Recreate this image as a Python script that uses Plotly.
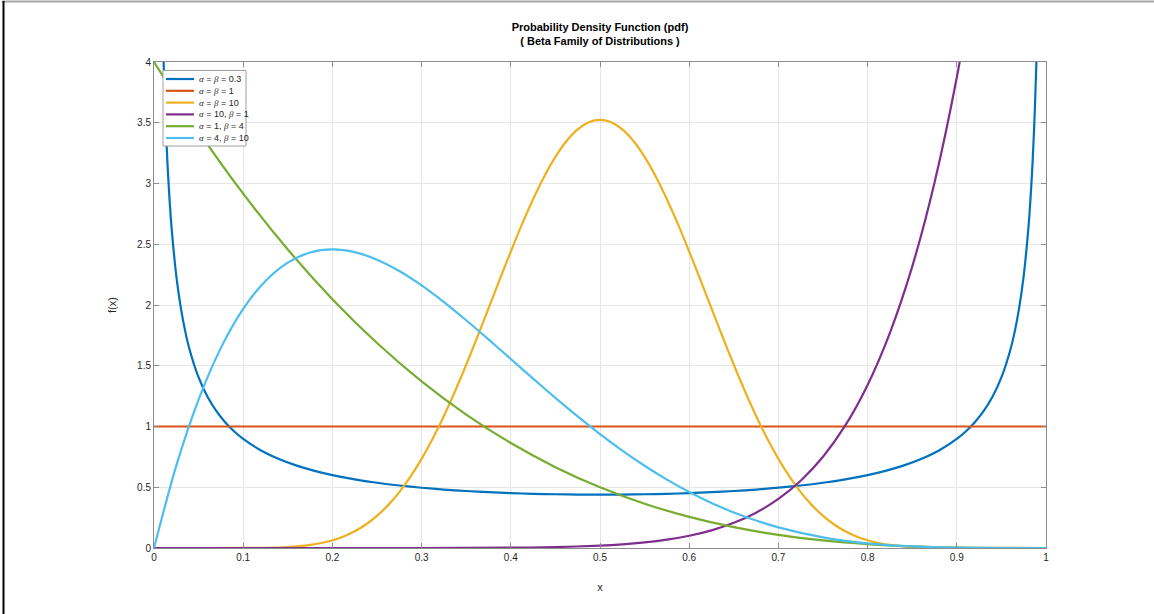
import plotly.graph_objects as go

# ---- data ----
x_a = [0.005, 0.0075, 0.01, 0.0125, 0.015, 0.0175, 0.02, 0.025, 0.03, 0.035, 0.04, 0.05, 0.06, 0.07, 0.08, 0.09, 0.1,
       0.12, 0.14, 0.16, 0.18, 0.2, 0.225, 0.25, 0.275, 0.3, 0.325, 0.35, 0.375, 0.4, 0.425, 0.45, 0.475, 0.5,
       0.525, 0.55, 0.575, 0.6, 0.625, 0.65, 0.675, 0.7, 0.725, 0.75, 0.775, 0.8, 0.82, 0.84, 0.86, 0.88,
       0.9, 0.91, 0.92, 0.93, 0.94, 0.95, 0.96, 0.965, 0.97, 0.975, 0.98, 0.9825, 0.985, 0.9875, 0.99, 0.9925, 0.995]
y_a = [6.81, 5.139, 4.21, 3.607, 3.18, 2.860, 2.61, 2.240, 1.98, 1.783, 1.63, 1.404, 1.245, 1.126, 1.0334, 0.959, 0.898,
       0.8028, 0.7323, 0.6780, 0.6350, 0.600, 0.5651, 0.5371, 0.5145, 0.4961, 0.4812, 0.4691, 0.4594, 0.4518, 0.4461, 0.4422, 0.4399, 0.4391,
       0.4399, 0.4422, 0.4461, 0.4518, 0.4594, 0.4691, 0.4812, 0.4961, 0.5145, 0.5371, 0.5651, 0.600, 0.6350, 0.6780, 0.7323, 0.8028,
       0.898, 0.959, 1.0334, 1.126, 1.245, 1.404, 1.63, 1.783, 1.98, 2.240, 2.61, 2.860, 3.18, 3.607, 4.21, 5.139, 6.81]

x_b = [0.0, 1.0]
y_b = [1.0, 1.0]

x_c = [0.0, 0.05, 0.1, 0.125, 0.15, 0.1625, 0.175, 0.1875, 0.2, 0.2125, 0.225, 0.2375, 0.25, 0.2625, 0.275, 0.2875,
       0.3, 0.3125, 0.325, 0.3375, 0.35, 0.3625, 0.375, 0.3875, 0.4, 0.4125, 0.425, 0.4375, 0.45, 0.4625, 0.475, 0.4875,
       0.5, 0.5125, 0.525, 0.5375, 0.55, 0.5625, 0.575, 0.5875, 0.6, 0.6125, 0.625, 0.6375, 0.65, 0.6625, 0.675, 0.6875,
       0.7, 0.7125, 0.725, 0.7375, 0.75, 0.7625, 0.775, 0.7875, 0.8, 0.8125, 0.825, 0.8375, 0.85, 0.875, 0.9, 0.95, 1.0]
y_c = [0.0, 0.0, 0.0004, 0.0021, 0.0082, 0.0148, 0.0251, 0.0408, 0.0634, 0.0950, 0.1377, 0.1935, 0.2646, 0.3529, 0.4599, 0.5867,
       0.7336, 0.9009, 1.0871, 1.2903, 1.508, 1.7366, 1.971, 2.2079, 2.440, 2.6637, 2.871, 3.0584, 3.219, 3.3498, 3.445, 3.5044,
       3.524, 3.5044, 3.445, 3.3498, 3.219, 3.0584, 2.871, 2.6637, 2.440, 2.2079, 1.971, 1.7366, 1.508, 1.2903, 1.0871, 0.9009,
       0.7336, 0.5867, 0.4599, 0.3529, 0.2646, 0.1935, 0.1377, 0.0950, 0.0634, 0.0408, 0.0251, 0.0148, 0.0082, 0.0021, 0.0004, 0.0, 0.0]

x_d = [0.0, 0.1, 0.2, 0.3, 0.4, 0.45, 0.5, 0.525, 0.55, 0.575, 0.6, 0.625, 0.65, 0.675, 0.7, 0.725, 0.75, 0.775, 0.8,
       0.825, 0.85, 0.875, 0.9, 0.925, 0.95]
y_d = [0.0, 0.0, 0.00001, 0.0002, 0.0026, 0.0076, 0.0195, 0.0303, 0.0461, 0.0687, 0.1008, 0.1455, 0.2071, 0.2909, 0.4035, 0.5535, 0.7508, 1.0087, 1.342,
       1.7706, 2.316, 3.0067, 3.874, 4.958, 6.30]

x_e = [0.0, 0.05, 0.1, 0.15, 0.2, 0.25, 0.3, 0.35, 0.4, 0.45, 0.5, 0.55, 0.6, 0.65, 0.7, 0.75, 0.8, 0.85, 0.9, 0.95, 1.0]
y_e = [4.0, 3.4295, 2.916, 2.4565, 2.048, 1.6875, 1.372, 1.0985, 0.864, 0.6655, 0.5, 0.3645, 0.256, 0.1715, 0.108, 0.0625, 0.032, 0.0135, 0.004, 0.0005, 0.0]

x_f = [0.0, 0.025, 0.05, 0.075, 0.1, 0.125, 0.15, 0.175, 0.2, 0.225, 0.25, 0.275, 0.3, 0.325, 0.35, 0.375, 0.4, 0.425, 0.45,
       0.475, 0.5, 0.525, 0.55, 0.575, 0.6, 0.625, 0.65, 0.675, 0.7, 0.75, 0.8, 0.85, 0.9, 0.95, 1.0]
y_f = [0.0, 0.6778, 1.2218, 1.6472, 1.9683, 2.1982, 2.3490, 2.4321, 2.4576, 2.4351, 2.3730, 2.2793, 2.1609, 2.0240, 1.8744, 1.7166, 1.5552, 1.3937, 1.2353,
       1.0826, 0.9375, 0.8018, 0.6766, 0.5628, 0.4608, 0.3708, 0.2926, 0.2259, 0.1701, 0.0879, 0.0384, 0.0129, 0.0027, 0.0002, 0.0]

A = "<span style='font-family:Liberation Serif'><i>α</i></span>"
B = "<span style='font-family:Liberation Serif'><i>β</i></span>"
labels = [f"{A} = {B} = 0.3", f"{A} = {B} = 1", f"{A} = {B} = 10",
          f"{A} = 10, {B} = 1", f"{A} = 1, {B} = 4", f"{A} = 4, {B} = 10"]
colors = ["#0072BD", "#D95319", "#EDB120", "#7E2F8E", "#77AC30", "#4DBEEE"]
x_ticks = [0, 0.1, 0.2, 0.3, 0.4, 0.5, 0.6, 0.7, 0.8, 0.9, 1]
x_tick_text = ["0", "0.1", "0.2", "0.3", "0.4", "0.5", "0.6", "0.7", "0.8", "0.9", "1"]
y_ticks = [0, 0.5, 1, 1.5, 2, 2.5, 3, 3.5, 4]
y_tick_text = ["0", "0.5", "1", "1.5", "2", "2.5", "3", "3.5", "4"]

series = [(x_a, y_a), (x_b, y_b), (x_c, y_c), (x_d, y_d), (x_e, y_e), (x_f, y_f)]

fig = go.Figure()
for (xs, ys), lab, col in zip(series, labels, colors):
    fig.add_trace(go.Scatter(x=xs, y=ys, mode="lines", name=lab, showlegend=False,
                             line=dict(color=col, width=2.2, shape="spline", smoothing=0.8)))

FONT = "Liberation Sans, Arial, Helvetica, sans-serif"
axis_common = dict(showline=True, linecolor="#8c8c8c", linewidth=1, mirror="ticks",
                   ticks="inside", ticklen=5, tickcolor="#8c8c8c",
                   showgrid=True, gridcolor="#e6e6e6", gridwidth=1, zeroline=False,
                   tickfont=dict(family=FONT, size=10, color="#262626"))

W, H = 1154, 614
ML, MR, MT, MB = 154, 108, 62, 66
PW, PH = W - ML - MR, H - MT - MB


def px_x(p):
    return (p - ML) / PW


def px_y(p):
    return (H - MB - p) / PH


fig.update_layout(
    width=W, height=H,
    margin=dict(l=ML, r=MR, t=MT, b=MB),
    paper_bgcolor="white", plot_bgcolor="white",
    font=dict(family=FONT, color="#262626"),
    title=dict(text="<b>Probability Density Function (pdf)</b><br><b>( Beta Family of Distributions )</b>",
               x=0.5, xref="paper", xanchor="center", y=1 - 31 / H, yanchor="middle",
               font=dict(family=FONT, size=11, color="#000000")),
    xaxis=dict(range=[0, 1], tickvals=x_ticks, ticktext=x_tick_text,
               title=dict(text="x", font=dict(family=FONT, size=11, color="#262626"), standoff=21),
               **axis_common),
    yaxis=dict(range=[0, 4], tickvals=y_ticks, ticktext=y_tick_text,
               title=dict(text="f(x)", font=dict(family=FONT, size=11, color="#262626"), standoff=18),
               **axis_common),
    showlegend=False,
)

# legend box (MATLAB-style compact legend)
fig.add_shape(type="rect", xref="paper", yref="paper",
              x0=px_x(163), x1=px_x(246), y0=px_y(146), y1=px_y(70.5),
              line=dict(color="#a0a0a0", width=1), fillcolor="white", layer="above")
for i, (lab, col) in enumerate(zip(labels, colors)):
    yy = px_y(79 + i * 11.8)
    fig.add_shape(type="line", xref="paper", yref="paper",
                  x0=px_x(166), x1=px_x(194), y0=yy, y1=yy,
                  line=dict(color=col, width=2.2), layer="above")
    fig.add_annotation(x=px_x(197), y=yy, xref="paper", yref="paper",
                       text=lab, showarrow=False, xanchor="left", yanchor="middle",
                       font=dict(family=FONT, size=9, color="#262626"))

# thin frame lines at the top and left edges of the image
fig.add_shape(type="line", xref="paper", yref="paper",
              x0=px_x(2), x1=px_x(W), y0=px_y(1.5), y1=px_y(1.5),
              line=dict(color="#a6a6a6", width=2))
fig.add_shape(type="line", xref="paper", yref="paper",
              x0=px_x(3.5), x1=px_x(3.5), y0=px_y(1), y1=px_y(H),
              line=dict(color="#000000", width=2))

fig.write_html("out.html", config={"displayModeBar": False},
               post_script="document.body.style.margin='0';")
